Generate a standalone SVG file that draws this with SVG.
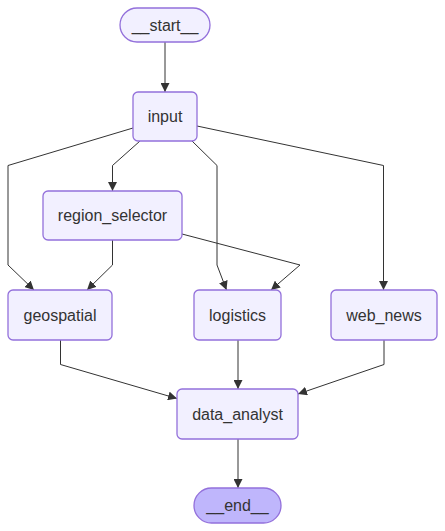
<svg xmlns="http://www.w3.org/2000/svg" width="445" height="531" viewBox="0 0 445 531">
<style>
.node rect{fill:#f2f0ff;stroke:#9370db;stroke-width:1.3}
.node.term rect{fill:#f2f0ff}
.node.endn rect{fill:#bfb6fc}
.node text{font-family:"Liberation Sans",Arial,sans-serif;font-size:16px;fill:#333;text-anchor:middle}
.edges path{fill:none;stroke:#333;stroke-width:1;marker-end:url(#arrow)}
</style>
<defs>
<marker id="arrow" viewBox="0 0 10 10" refX="10" refY="5" markerUnits="userSpaceOnUse" markerWidth="9" markerHeight="9" orient="auto">
<path d="M0,0 L10,5 L0,10 z" fill="#333"/>
</marker>
</defs>
<rect width="445" height="531" fill="#ffffff"/>
<g class="edges">
<path d="M165,42 L165,92"/>
<path d="M133,128 L8,165.5 L8,265 L34,290"/>
<path d="M140,141 L112.5,165.5 L112.5,191"/>
<path d="M192,141 L217,165.5 L217,265 L226.5,290"/>
<path d="M197,126 L383.5,165.5 L383.5,290"/>
<path d="M112.5,240 L112.5,265 L87,290"/>
<path d="M182,234 L300,265 L271,290"/>
<path d="M60.5,340 L60.5,364.5 L177,398.5"/>
<path d="M238,340 L238,389"/>
<path d="M384,340 L384,364.5 L298,394"/>
<path d="M238,439 L238,488"/>
</g>
<g id="start" class="node term">
<rect x="120" y="8" width="90" height="34" rx="17" ry="17"/>
<text x="165" y="30.5">__start__</text>
</g>
<g id="input" class="node">
<rect x="133" y="92" width="64" height="49" rx="5" ry="5"/>
<text x="165" y="122">input</text>
</g>
<g id="region_selector" class="node">
<rect x="43" y="191" width="139" height="49" rx="5" ry="5"/>
<text x="112.5" y="221">region_selector</text>
</g>
<g id="geospatial" class="node">
<rect x="8" y="290" width="104" height="50" rx="5" ry="5"/>
<text x="60" y="321">geospatial</text>
</g>
<g id="logistics" class="node">
<rect x="194" y="290" width="87" height="50" rx="5" ry="5"/>
<text x="237.5" y="321">logistics</text>
</g>
<g id="web_news" class="node">
<rect x="331" y="290" width="106" height="50" rx="5" ry="5"/>
<text x="384" y="321">web_news</text>
</g>
<g id="data_analyst" class="node">
<rect x="177" y="389" width="121" height="50" rx="5" ry="5"/>
<text x="237.5" y="420">data_analyst</text>
</g>
<g id="end" class="node endn">
<rect x="194" y="488" width="87" height="35" rx="17.5" ry="17.5"/>
<text x="237.5" y="511">__end__</text>
</g>
</svg>
